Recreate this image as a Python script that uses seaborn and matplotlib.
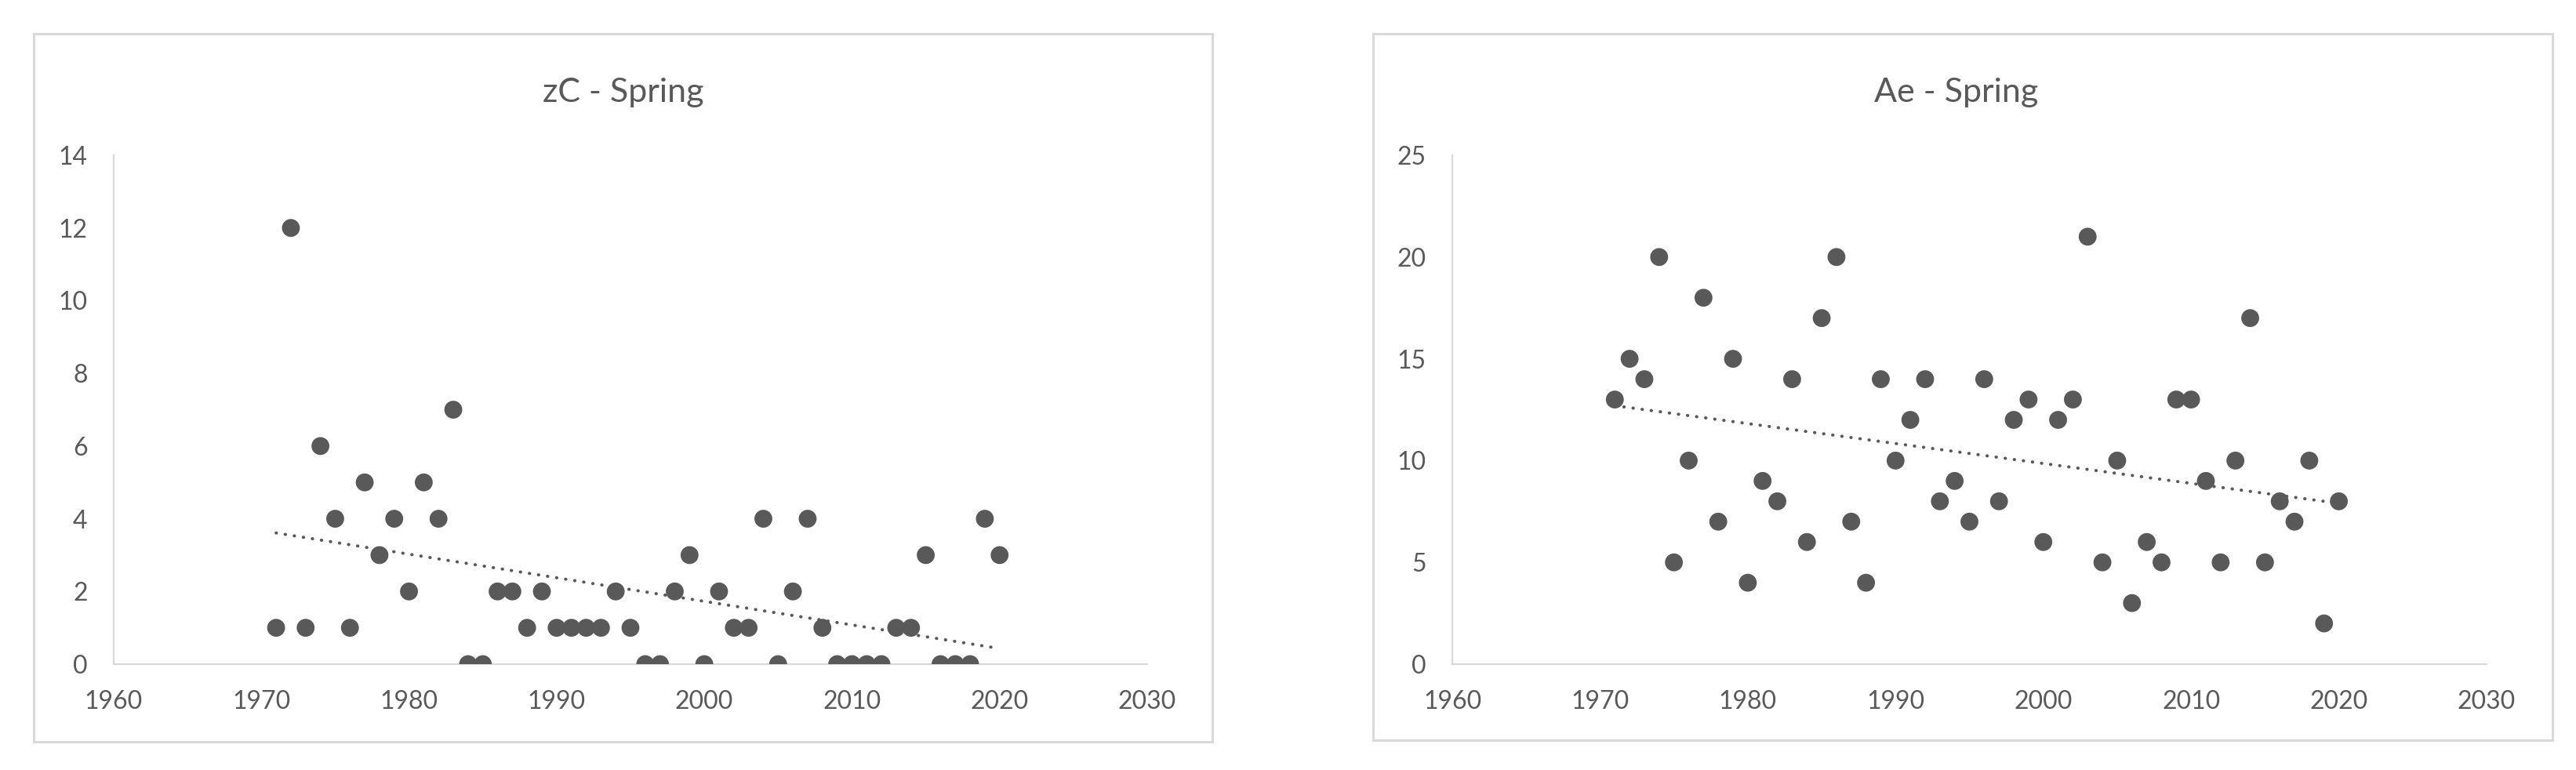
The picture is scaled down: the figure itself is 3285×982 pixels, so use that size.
import numpy as np
import pandas as pd
import matplotlib
matplotlib.use("Agg")
import matplotlib.pyplot as plt
from matplotlib.patches import Rectangle
import seaborn as sns

years = list(range(1971, 2021))
zc_spring = [1, 12, 1, 6, 4, 1, 5, 3, 4, 2,
             5, 4, 7, 0, 0, 2, 2, 1, 2, 1,
             1, 1, 1, 2, 1, 0, 0, 2, 3, 0,
             2, 1, 1, 4, 0, 2, 4, 1, 0, 0,
             0, 0, 1, 1, 3, 0, 0, 0, 4, 3]
ae_spring = [13, 15, 14, 20, 5, 10, 18, 7, 15, 4,
             9, 8, 14, 6, 17, 20, 7, 4, 14, 10,
             12, 14, 8, 9, 7, 14, 8, 12, 13, 6,
             12, 13, 21, 5, 10, 3, 6, 5, 13, 13,
             9, 5, 10, 17, 5, 8, 7, 10, 2, 8]
titles = ["zC - Spring", "Ae - Spring"]
y_limits = [(0, 14), (0, 25)]
y_steps = [2, 5]
x_ticks = [1960, 1970, 1980, 1990, 2000, 2010, 2020, 2030]

sns.set_theme(style="white")
plt.rcParams['font.family'] = ['Lato', 'DejaVu Sans']

W, H = 3285, 982
fig = plt.figure(figsize=(W / 100, H / 100), dpi=100)
fig.patch.set_facecolor("white")

dark = "#595959"
spine_c = "#d9d9d9"

# chart area borders
for (x0, y0, x1, y1) in [(43, 43, 1546, 946), (1751, 43, 3255, 944)]:
    fig.patches.append(Rectangle((x0 / W, 1 - y1 / H), (x1 - x0) / W, (y1 - y0) / H,
                                 transform=fig.transFigure, fill=False,
                                 edgecolor=spine_c, linewidth=2.2, zorder=0))

axes_pos = [[145 / W, 1 - 847 / H, 1318 / W, 649 / H],
            [1852 / W, 1 - 847 / H, 1319 / W, 649 / H]]
title_x = [795 / W, 2495 / W]

for i, vals in enumerate([zc_spring, ae_spring]):
    df = pd.DataFrame({"year": years, "value": vals})
    ax = fig.add_axes(axes_pos[i])
    ax.set_facecolor("none")
    sns.scatterplot(data=df, x="year", y="value", ax=ax, s=270, color=dark,
                    edgecolor="none", linewidth=0, zorder=3)
    sns.regplot(data=df, x="year", y="value", ax=ax, scatter=False, ci=None,
                color=dark, line_kws=dict(linestyle=(0, (0.1, 2.8)), linewidth=2.9,
                                          dash_capstyle="round"))
    ax.set_xlim(1960, 2030)
    ax.set_ylim(*y_limits[i])
    ax.set_xticks(x_ticks)
    ax.set_yticks(np.arange(y_limits[i][0], y_limits[i][1] + 0.1, y_steps[i]))
    ax.set_xlabel("")
    ax.set_ylabel("")
    for s in ["top", "right"]:
        ax.spines[s].set_visible(False)
    for s in ["left", "bottom"]:
        ax.spines[s].set_color(spine_c)
        ax.spines[s].set_linewidth(1.6)
    ax.tick_params(axis="both", length=0, labelsize=23, labelcolor=dark)
    ax.tick_params(axis="y", pad=24)
    ax.tick_params(axis="x", pad=24)
    ax.grid(False)
    fig.text(title_x[i], 1 - 118 / H, titles[i], ha="center", va="center",
             fontsize=31, color=dark)

fig.savefig("out.png", dpi=100, facecolor="white")
